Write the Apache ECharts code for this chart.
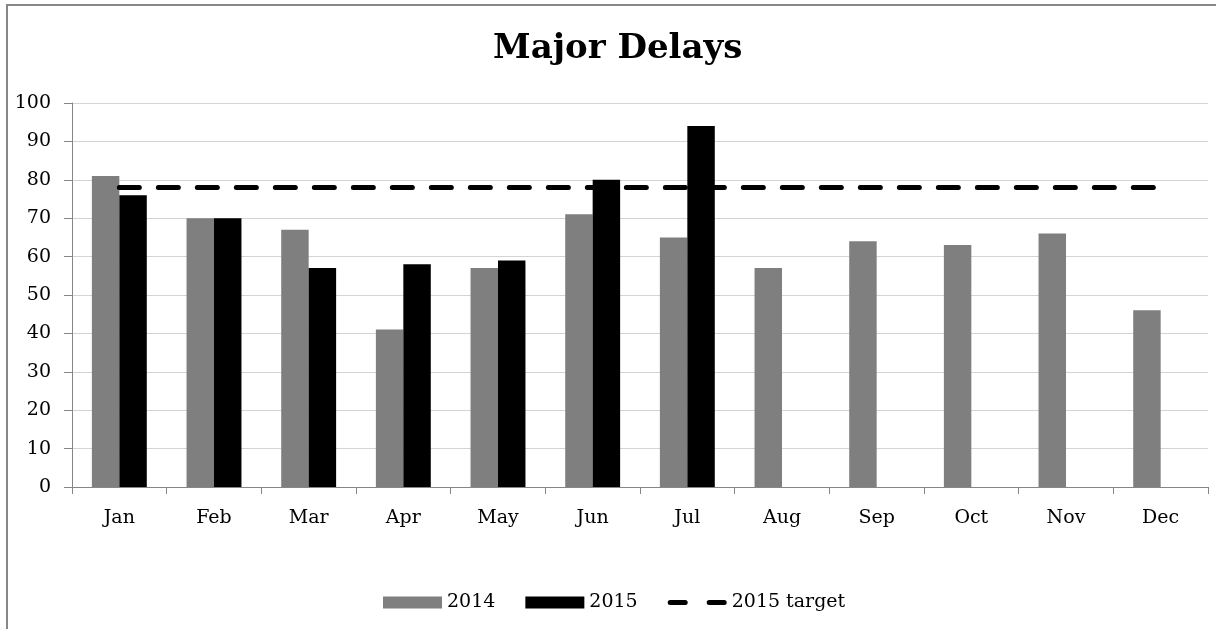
<!DOCTYPE html>
<html>
<head>
<meta charset="utf-8">
<title>Major Delays</title>
<script src="https://cdn.jsdelivr.net/npm/echarts@6/dist/echarts.min.js"></script>
<style>
  html, body { margin: 0; padding: 0; background: #fff; }
  #chart { width: 1216px; height: 629px; }
</style>
</head>
<body>
<div id="chart"></div>
<script>
var months = ['Jan', 'Feb', 'Mar', 'Apr', 'May', 'Jun', 'Jul', 'Aug', 'Sep', 'Oct', 'Nov', 'Dec'];
var delays2014 = [81, 70, 67, 41, 57, 71, 65, 57, 64, 63, 66, 46];
var delays2015 = [76, 70, 57, 58, 59, 80, 94];
var target2015 = [78, 78, 78, 78, 78, 78, 78, 78, 78, 78, 78, 78];

var font = '"DejaVu Serif", serif';
// two rounded dashes, padded to the 59x12 legend box
var dashIcon = 'path://M0,0M59,12M2.5,3.5h15a2.5,2.5 0 0 1 0,5h-15a2.5,2.5 0 0 1 0,-5z' +
  'M41.5,3.5h15a2.5,2.5 0 0 1 0,5h-15a2.5,2.5 0 0 1 0,-5z';

var chart = echarts.init(document.getElementById('chart'));

chart.setOption({
  animation: false,
  backgroundColor: '#fff',
  graphic: [{
    type: 'rect',
    shape: { x: 7, y: 5, width: 1300, height: 700 },
    style: { fill: null, stroke: '#878787', lineWidth: 2 },
    silent: true
  }],
  title: {
    text: 'Major Delays',
    left: 488,
    top: 27,
    textStyle: { fontFamily: font, fontWeight: 'bold', fontSize: 34, color: '#000' }
  },
  legend: {
    bottom: 12,
    left: 378,
    itemWidth: 59,
    itemHeight: 12,
    itemGap: 30,
    textStyle: { fontFamily: font, fontSize: 19, color: '#000' },
    data: [
      { name: '2014', icon: 'rect' },
      { name: '2015', icon: 'rect' },
      { name: '2015 target', icon: dashIcon, itemStyle: { borderWidth: 0 } }
    ]
  },
  grid: { left: 72, right: 8, top: 103, bottom: 142, containLabel: false },
  xAxis: {
    type: 'category',
    data: months,
    axisLine: { lineStyle: { color: '#868686', width: 1 } },
    axisTick: { show: true, length: 7, lineStyle: { color: '#868686' } },
    axisLabel: { margin: 22, fontFamily: font, fontSize: 19, color: '#000' }
  },
  yAxis: {
    type: 'value',
    min: 0,
    max: 100,
    interval: 10,
    axisLine: { show: true, lineStyle: { color: '#868686', width: 1 } },
    axisTick: { show: true, length: 8, lineStyle: { color: '#868686' } },
    axisLabel: { margin: 21, fontFamily: font, fontSize: 19, color: '#000' },
    splitLine: { lineStyle: { color: '#d4d4d4', width: 1 } }
  },
  series: [
    {
      name: '2014',
      type: 'bar',
      data: delays2014,
      barGap: '0%',
      barCategoryGap: '42%',
      itemStyle: { color: '#7f7f7f' }
    },
    {
      name: '2015',
      type: 'bar',
      data: delays2015,
      itemStyle: { color: '#000' }
    },
    {
      name: '2015 target',
      type: 'line',
      data: target2015,
      symbol: 'none',
      z: 5,
      itemStyle: { color: '#000' },
      lineStyle: { color: '#000', width: 5, type: [20, 19], cap: 'round' }
    }
  ]
});
</script>
</body>
</html>
